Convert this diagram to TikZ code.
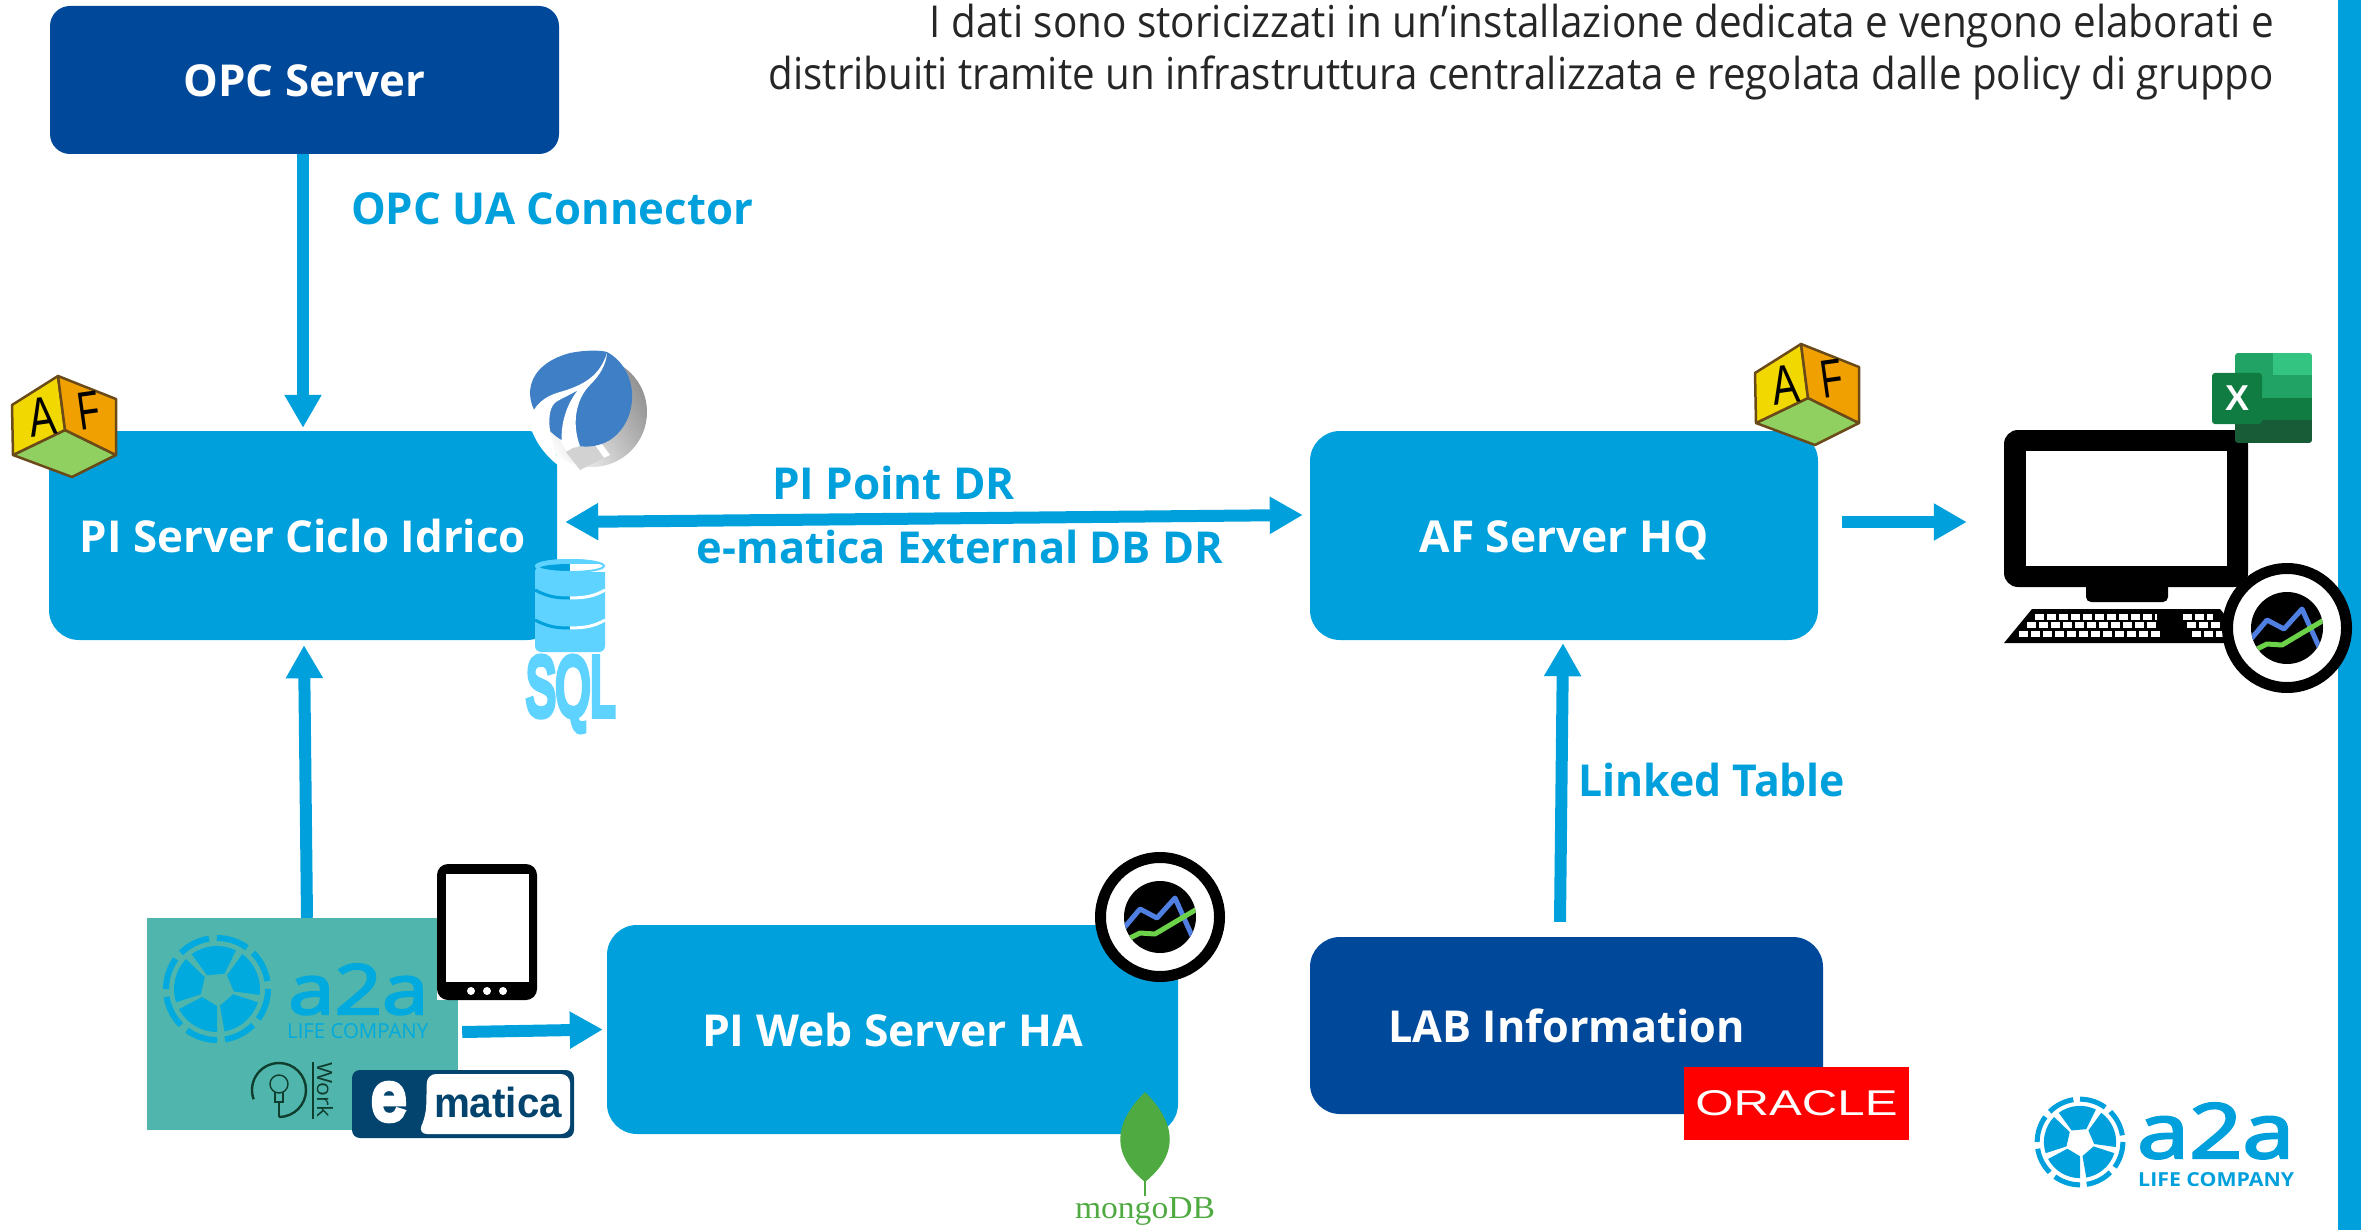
\documentclass[tikz,border=0pt]{standalone}
\usepackage{fontspec}
\usepackage{graphicx}
\setmainfont{Open Sans}
\newfontfamily\sqlfont{Liberation Sans}
\newfontfamily\sqlfat[FakeBold=9]{Liberation Sans}
\newfontfamily\logofat[FakeBold=3]{Open Sans}
\newfontfamily\mongofont{Liberation Serif}
\usetikzlibrary{arrows.meta,shapes.geometric,calc}
\definecolor{a2ablue}{HTML}{00A0DC}
\definecolor{a2adark}{HTML}{004899}
\definecolor{tealbg}{HTML}{50B5AC}
\definecolor{sqlblue}{HTML}{5FD3FF}
\definecolor{emdark}{HTML}{03446F}
\definecolor{bulbgreen}{HTML}{0F3D2E}
\definecolor{mongogreen}{HTML}{4FAA41}
\definecolor{piblue}{HTML}{3F7FC6}
\definecolor{cubeline}{HTML}{6B4A1A}
\definecolor{cubeyellow}{HTML}{F0D800}
\definecolor{cubeorange}{HTML}{F0A000}
\definecolor{cubegreen}{HTML}{90D060}
\newcommand{\fw}[2]{\resizebox{#1pt}{\height}{#2}}
\newcommand{\awheel}[4]{%
 \begin{scope}[shift={(#1,#2)},scale=#3]
  \foreach \a in {18,90,162,234,306}{
   \pgfmathsetmacro{\e}{\a+62}
   \fill[#4] (\a:17) -- (\a:43) arc[start angle=\a,end angle=\e,radius=43] -- (\e:17) -- cycle;
  }
  \foreach \a in {0,45,90,135,180,225,270,315}{
   \pgfmathsetmacro{\e}{\a+36}
   \draw[#4,line width=6pt*#3] (\a:51) arc[start angle=\a,end angle=\e,radius=51];
  }
 \end{scope}}
\newcommand{\afcube}[3]{%
 \begin{scope}[shift={(#1,#2)}]
  \fill[cubegreen,draw=cubeline,line width=2.5pt,line join=round] (2,80) -- (54,55) -- (105,80) -- (61,102) -- cycle;
  \fill[cubeyellow,draw=cubeline,line width=2.5pt,line join=round] (1,30) -- (47,1) -- (54,55) -- (2,80) -- cycle;
  \fill[cubeorange,draw=cubeline,line width=2.5pt,line join=round] (47,1) -- (105,24) -- (105,80) -- (54,55) -- cycle;
  \node[rotate=8,inner sep=0pt] (#3a) at (31,42) {\resizebox{27pt}{38pt}{\sqlfont A}};
  \node[rotate=8,inner sep=0pt] (#3f) at (78,36) {\resizebox{22pt}{37pt}{\sqlfont F}};
 \end{scope}}
\newcommand{\pibadge}[2]{%
 \begin{scope}[shift={(#1,#2)}]
  \fill[white] (0,0) circle (56);
  \draw[black,line width=11pt] (0,0) circle (59.5);
  \fill[black] (0,0) circle (36);
  \begin{scope}
   \clip (0,0) circle (36);
   \draw[color={rgb,255:red,79;green,127;blue,224},line width=5pt,line join=round] (-36,11) -- (-20,-8) -- (-3,1) -- (15,-19) -- (32,19);
   \draw[color={rgb,255:red,108;green,210;blue,74},line width=5pt,line join=round] (-30,21) -- (-20,16) -- (-5,17) -- (37,-8);
  \end{scope}
 \end{scope}}
\tikzset{
 srv/.style={rounded corners=30pt,fill=a2ablue,text=white,inner sep=0pt,text height=34pt,text depth=0pt,font=\bfseries\fontsize{44}{44}\selectfont},
 srvd/.style={srv,fill=a2adark},
 lbl/.style={text=a2ablue,inner sep=0pt,font=\bfseries\fontsize{44}{44}\selectfont},
 flow/.style={draw=a2ablue,line width=12pt,-{Triangle[length=33pt,width=35pt]}},
 dflow/.style={draw=a2ablue,line width=12pt,{Triangle[length=33pt,width=35pt]}-{Triangle[length=33pt,width=35pt]}},
 ttl/.style={anchor=base east,inner sep=0pt,text=black!85,font=\fontsize{44}{44}\selectfont},
}
\begin{document}
\begin{tikzpicture}[x=1pt,y=-1pt]
\useasboundingbox (0,0) rectangle (2361,1230);
\fill[a2ablue] (2338,0) rectangle (2361,1230);

% title
\node[ttl] (t1) at (2274,38) {\fw{1344}{I dati sono storicizzati in un’installazione dedicata e vengono elaborati e}};
\node[ttl] (t2) at (2274,90) {\fw{1505}{distribuiti tramite un infrastruttura centralizzata e regolata dalle policy di gruppo}};

% boxes
\node[srvd,rounded corners=20pt,minimum width=509pt,minimum height=148pt] (opc) at (304.5,80) {\fw{242}{OPC Server}};
\node[srv,minimum width=508pt,minimum height=209pt] (pi) at (303,535.5) {\fw{446}{PI Server Ciclo Idrico}};
\node[srv,minimum width=508pt,minimum height=209pt] (af) at (1564,535.5) {\fw{289}{AF Server HQ}};
\node[srv,minimum width=571pt,minimum height=209pt] (web) at (892.5,1029.5) {\fw{381}{PI Web Server HA}};
\node[srvd,minimum width=513pt,minimum height=177pt] (lab) at (1566.5,1025.5) {\fw{356}{LAB Information}};

% labels
\node[lbl,anchor=west] (l1) at (351,209) {\fw{402}{OPC UA Connector}};
\node[lbl] (l2) at (893.5,483) {\fw{243}{PI Point DR}};
\node[lbl] (l3) at (960,547) {\fw{526}{e-matica External DB DR}};
\node[lbl,anchor=west] (l4) at (1578,780) {\fw{267}{Linked Table}};

% teal panel
\node[fill=tealbg,inner sep=0pt,minimum width=311pt,minimum height=212pt] (panel) at (302.5,1024) {};
\awheel{217}{989}{1}{a2ablue!90!cyan}
\node[inner sep=0pt,text=a2ablue!90!cyan,anchor=base west] (p1) at (288,1014) {\resizebox{140pt}{50pt}{\logofat a2a}};
\node[inner sep=0pt,text=a2ablue!90!cyan,anchor=base west] (p2) at (287,1038) {\resizebox{141pt}{15pt}{LIFE COMPANY}};
% bulb
\draw[bulbgreen,line width=2.4pt] (279,1117) arc[start angle=90,end angle=-200,radius=27];
\draw[bulbgreen,line width=1.4pt] (279,1084) circle (9);
\draw[bulbgreen,line width=1.4pt] (275,1092) -- (275,1102) -- (283,1102) -- (283,1092);
\draw[bulbgreen,line width=1.8pt] (279,1102) -- (279,1117);
\draw[bulbgreen,line width=1.2pt] (313,1062) -- (313,1119);
\node[rotate=-90,inner sep=0pt,text=bulbgreen] (wk) at (325,1090) {\resizebox{56pt}{16pt}{Work}};
% tablet
\fill[white] (437,985) rectangle (450,1000);
\node[fill=black,rounded corners=11pt,inner sep=0pt,minimum width=100pt,minimum height=136pt] (tablet) at (487,932) {};
\fill[white] (446,874) rectangle (529,982);
\foreach \x in {471,487,503}{\fill[white] (\x,991) circle (4);}
% ematica
\node[fill=emdark,rounded corners=8pt,inner sep=0pt,minimum width=222pt,minimum height=68pt] (em) at (463,1104) {};
\fill[white,rounded corners=9pt] (427,1074) -- (570,1074) -- (570,1134) -- (418,1134) -- (426,1115) -- cycle;
\node[inner sep=0pt,text=white] (eme) at (389,1102) {\resizebox{34pt}{36pt}{\sqlfat e}};
\node[inner sep=0pt,text=emdark] (emt) at (498,1102) {\fw{128}{\sqlfont\fontsize{42}{42}\selectfont\bfseries matica}};

% connectors
\draw[flow] (opc.south -| pi.north) -- ([shift={(0,-3)}]pi.north);
\draw[flow] ([shift={(4.5,0)}]panel.north) -- ([shift={(1,5)}]pi.south);
\draw[dflow] ([shift={(8,-13.5)}]pi.east) -- ([shift={(-7,-20.5)}]af.west);
\draw[flow] ([shift={(4,8)}]panel.east) -- ([shift={(-4,0)}]web.west);
\draw[flow] ([shift={(-6.5,-15)}]lab.north) -- ([shift={(-1,3)}]af.south);

% AF cubes
\afcube{11}{375}{cubea}
\afcube{1754}{343}{cubeb}

% swirl
\begin{scope}
 \shade[left color=gray!85,right color=white,shading angle=-60] (592,412) ellipse (55 and 55);
 \fill[white] (560,440) -- (578,470) -- (610,455) -- (588,425) -- cycle;
 \fill[gray!35] (566,452) -- (590,438) -- (604,458) -- (580,470) -- cycle;
 \fill[piblue] (607,352) .. controls (640,370) and (640,420) .. (610,440) .. controls (590,452) and (562,448) .. (545,425) .. controls (520,400) and (525,365) .. (570,353) .. controls (585,350) and (600,350) .. (607,352) -- cycle;
 \fill[white] (607,353) .. controls (600,375) and (585,385) .. (560,392) .. controls (545,396) and (533,405) .. (529,422) .. controls (535,445) and (550,460) .. (562,468) .. controls (548,440) and (545,410) .. (556,402) .. controls (562,398) and (572,394) .. (578,390) .. controls (566,405) and (560,425) .. (562,445) .. controls (566,450) and (575,448) .. (580,446) .. controls (572,425) and (575,400) .. (590,385) .. controls (600,375) and (606,365) .. (607,353) -- cycle;
\end{scope}

% SQL icon
\fill[sqlblue,rounded corners=6pt] (535,566) rectangle (605,652);
\fill[sqlblue] (570,566) ellipse (35 and 7);
\fill[a2ablue] (570,568) ellipse (30 and 4);
\fill[white] (570,564) rectangle (605,572);
\draw[sqlblue,line width=2pt] (570,566) ellipse (34 and 6);
\draw[a2ablue,line width=3pt] (535,590) .. controls (550,598) and (560,598) .. (570,598);
\draw[white,line width=3pt] (570,598) .. controls (585,598) and (595,596) .. (605,590);
\draw[a2ablue,line width=3pt] (535,620) .. controls (550,628) and (560,628) .. (570,628);
\draw[white,line width=3pt] (570,628) .. controls (585,628) and (595,626) .. (605,620);
\node[inner sep=0pt,text=sqlblue] (sql) at (570.5,694) {\resizebox{89pt}{58pt}{\sqlfat SQL}};

% web badge and leaf
\pibadge{1160}{917}
\fill[mongogreen] (1145,1092) .. controls (1112,1125) and (1112,1155) .. (1145,1182) .. controls (1178,1155) and (1178,1125) .. (1145,1092) -- cycle;
\draw[mongogreen,line width=2.5pt] (1145,1175) -- (1145,1196);
\node[inner sep=0pt,text=mongogreen] (mongo) at (1145,1211) {\resizebox{140pt}{\height}{\mongofont\fontsize{32}{32}\selectfont mongoDB}};

% oracle
\node[fill=red,text=white,inner sep=0pt,minimum width=225pt,minimum height=73pt] (oracle) at (1796.5,1103.5) {\resizebox{202pt}{25pt}{\sqlfont ORACLE}};

% lower right logo
\awheel{2080}{1142}{0.84}{a2ablue}
\node[inner sep=0pt,text=a2ablue,anchor=base west] (b1) at (2137,1158) {\resizebox{157pt}{55pt}{\logofat a2a}};
\node[inner sep=0pt,text=a2ablue,anchor=base west] (b2) at (2138,1186) {\resizebox{156pt}{14pt}{\bfseries LIFE COMPANY}};

% workstation
\node[fill=black,rounded corners=14pt,inner sep=0pt,minimum width=244pt,minimum height=157pt] (pc) at (2126,508.5) {};
\fill[white] (2026,451) rectangle (2227,566);
\fill[black,rounded corners=5pt] (2086,580) rectangle (2168,602);
\fill[black] (2032,609) -- (2220,609) -- (2248,643) -- (2004,643) -- cycle;
\tikzset{keyrow/.style={white,line width=6pt,dash pattern=on 9pt off 3pt}}
\draw[keyrow] (2035,617) -- (2157,617);
\draw[keyrow] (2027,625) -- (2158,625);
\draw[keyrow] (2019,634) -- (2162,634);
\draw[keyrow] (2183,617) -- (2213,617);
\draw[keyrow] (2187,625) -- (2220,625);
\draw[keyrow] (2192,634) -- (2223,634);
\pibadge{2287}{628}
\draw[flow] ([shift={(24,-13.5)}]af.east) -- ([shift={(-37,13.5)}]pc.west);

% excel
\begin{scope}
 \clip[rounded corners=3pt] (2235,353) rectangle (2312,443);
 \fill[color={rgb,255:red,33;green,163;blue,102}] (2235,353) rectangle (2273,398);
 \fill[color={rgb,255:red,51;green,196;blue,129}] (2273,353) rectangle (2312,375);
 \fill[color={rgb,255:red,33;green,163;blue,102}] (2273,375) rectangle (2312,398);
 \fill[color={rgb,255:red,16;green,124;blue,65}] (2235,398) rectangle (2312,420);
 \fill[color={rgb,255:red,24;green,92;blue,55}] (2235,420) rectangle (2312,443);
\end{scope}
\node[fill={rgb,255:red,16;green,124;blue,65},rounded corners=3pt,text=white,inner sep=0pt,minimum width=50pt,minimum height=51pt,font=\sqlfont\bfseries\fontsize{36}{36}\selectfont] (xl) at (2237,398.5) {X};
\end{tikzpicture}
\end{document}
